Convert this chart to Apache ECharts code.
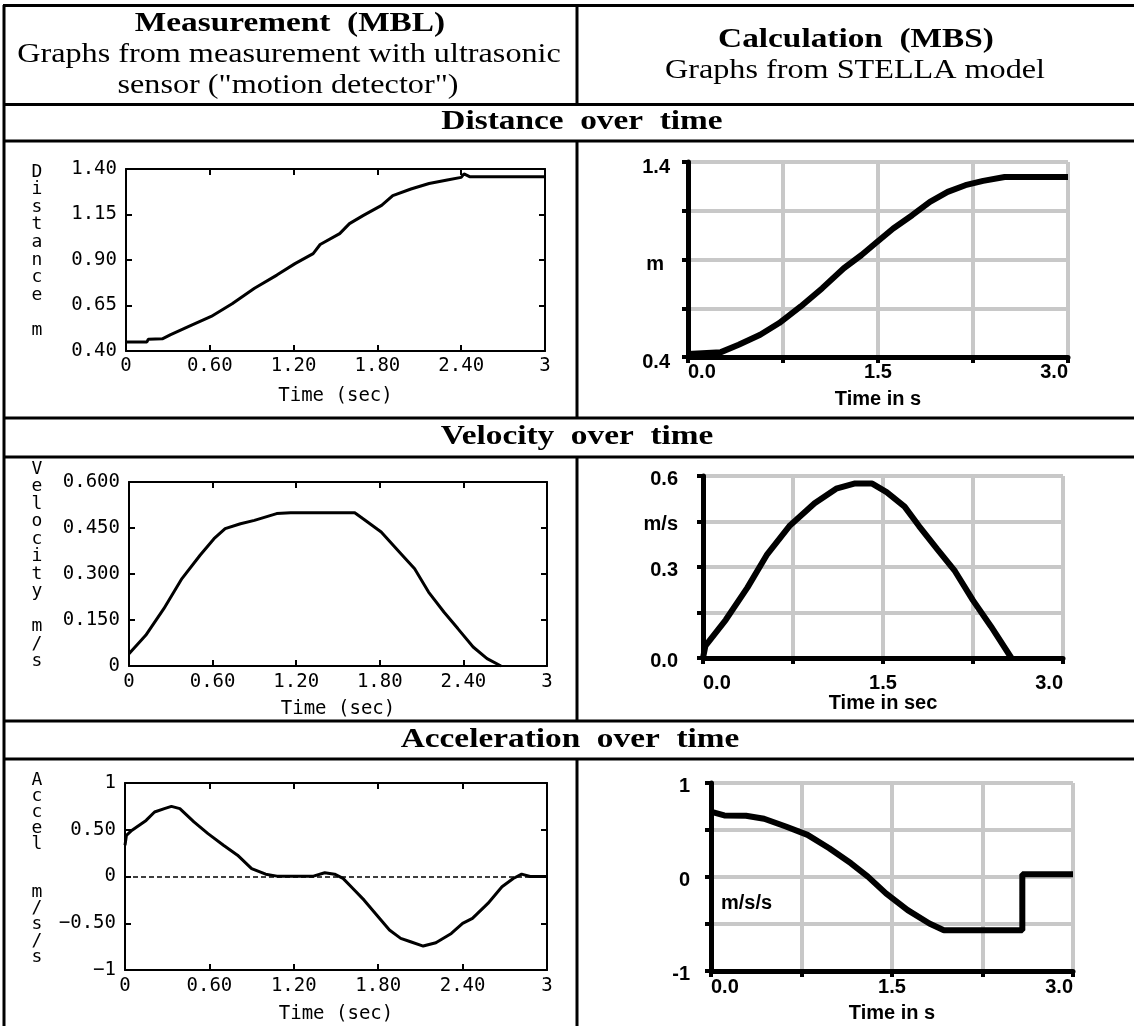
<!DOCTYPE html>
<html><head><meta charset="utf-8">
<script src="https://cdn.jsdelivr.net/npm/echarts@6/dist/echarts.min.js"></script>
<style>html,body{margin:0;padding:0;background:#fff}#c{width:1134px;height:1026px}</style>
</head><body><div id="c"></div>
<script>
// ---------- DATA ----------
// Measurement (MBL) - distance
const mblDistTime = [0, 0.15, 0.16, 0.26, 0.32, 0.45, 0.61, 0.76, 0.92, 1.08, 1.21, 1.34, 1.39, 1.53, 1.60, 1.70, 1.83, 1.91, 2.04, 2.17, 2.30, 2.40, 2.42, 2.46, 3.0];
const mblDistVal  = [0.45, 0.45, 0.465, 0.467, 0.49, 0.535, 0.59, 0.66, 0.745, 0.817, 0.88, 0.935, 0.985, 1.045, 1.10, 1.145, 1.20, 1.254, 1.29, 1.32, 1.34, 1.354, 1.373, 1.358, 1.358];
// Measurement (MBL) - velocity
const mblVelTime = [0, 0.12, 0.25, 0.38, 0.51, 0.61, 0.69, 0.80, 0.90, 1.06, 1.16, 1.62, 1.68, 1.81, 1.94, 2.05, 2.15, 2.26, 2.36, 2.47, 2.57, 2.67];
const mblVelVal  = [0.04, 0.10, 0.187, 0.285, 0.361, 0.415, 0.448, 0.464, 0.475, 0.497, 0.5, 0.5, 0.48, 0.437, 0.372, 0.317, 0.241, 0.176, 0.122, 0.062, 0.024, 0.0];
// Measurement (MBL) - acceleration
const mblAccTime = [0, 0.01, 0.05, 0.15, 0.21, 0.28, 0.33, 0.39, 0.49, 0.59, 0.70, 0.80, 0.90, 1.00, 1.08, 1.34, 1.42, 1.49, 1.55, 1.62, 1.70, 1.78, 1.88, 1.96, 2.03, 2.12, 2.21, 2.32, 2.40, 2.47, 2.58, 2.68, 2.76, 2.82, 2.88, 3.0];
const mblAccVal  = [0.335, 0.44, 0.495, 0.60, 0.69, 0.726, 0.75, 0.726, 0.584, 0.459, 0.335, 0.228, 0.085, 0.025, 0.004, 0.004, 0.04, 0.025, -0.02, -0.128, -0.253, -0.395, -0.573, -0.662, -0.698, -0.744, -0.708, -0.609, -0.502, -0.448, -0.288, -0.11, -0.021, 0.025, 0.0, 0.0];
// Calculation (MBS / STELLA) - distance
const mbsDistTime = [0, 0.26, 0.40, 0.57, 0.72, 0.89, 1.06, 1.23, 1.37, 1.48, 1.62, 1.77, 1.91, 2.05, 2.19, 2.33, 2.50, 3.0];
const mbsDistVal  = [0.415, 0.425, 0.463, 0.514, 0.574, 0.659, 0.753, 0.855, 0.923, 0.983, 1.059, 1.127, 1.196, 1.247, 1.281, 1.303, 1.323, 1.323];
// Calculation (MBS / STELLA) - velocity
const mbsVelTime = [0, 0.02, 0.19, 0.37, 0.53, 0.72, 0.93, 1.11, 1.26, 1.41, 1.53, 1.68, 1.80, 1.95, 2.10, 2.25, 2.40, 2.57];
const mbsVelVal  = [0, 0.04, 0.126, 0.232, 0.339, 0.435, 0.51, 0.558, 0.575, 0.575, 0.547, 0.499, 0.435, 0.36, 0.286, 0.19, 0.104, 0.0];
// Calculation (MBS / STELLA) - acceleration
const mbsAccTime = [0, 0.02, 0.11, 0.29, 0.44, 0.62, 0.80, 0.98, 1.16, 1.30, 1.45, 1.63, 1.81, 1.93, 2.58, 2.58, 3.0];
const mbsAccVal  = [0.69, 0.687, 0.655, 0.652, 0.62, 0.537, 0.448, 0.306, 0.146, 0.004, -0.174, -0.352, -0.495, -0.566, -0.566, 0.028, 0.028];

// Tick labels
const mblTimeLabels = ['0', '0.60', '1.20', '1.80', '2.40', '3'];
const mblDistLabels = ['0.40', '0.65', '0.90', '1.15', '1.40'];
const mblVelLabels  = ['0', '0.150', '0.300', '0.450', '0.600'];
const mblAccLabels  = ['\u22121', '\u22120.50', '0', '0.50', '1'];
const mbsTimeLabels = ['0.0', '', '1.5', '', '3.0'];
const mbsDistLabels = ['0.4', '', '{u|m}', '', '1.4'];
const mbsVelLabels  = ['0.0', '', '0.3', 'm/s', '0.6'];
const mbsAccLabels  = ['-1', '', '0', '', '1'];

// Texts: [text, bold, x, y]
const headerTexts = [
  ['Measurement  (MBL)', true, 290, 24],
  ['Graphs from measurement with ultrasonic', false, 289, 55],
  ['sensor ("motion detector")', false, 288, 86],
  ['Calculation  (MBS)', true, 856, 40],
  ['Graphs from STELLA model', false, 855, 71],
  ['Distance  over  time', true, 582, 122],
  ['Velocity  over  time', true, 577, 437],
  ['Acceleration  over  time', true, 570, 740]
];

// ---------- BUILD ----------
const MONO = 'DejaVu Sans Mono';
const SANS = 'Liberation Sans';
const fmt = (labels, min, step) => v => { const i = Math.round((v - min) / step); return labels[i] !== undefined ? labels[i] : ''; };
const pair = (a, b) => a.map((t, i) => [t, b[i]]);

const grids = [
  {left: 126, top: 169, width: 419, height: 182},
  {left: 688, top: 162, width: 380, height: 195},
  {left: 129, top: 482, width: 418, height: 184},
  {left: 703, top: 476, width: 360, height: 182},
  {left: 125, top: 783, width: 422, height: 187},
  {left: 711, top: 783, width: 362, height: 188}
].map(g => Object.assign(g, {containLabel: false, outerBoundsMode: 'none'}));

const mblLine = {show: true, onZero: false, lineStyle: {color: '#000', width: 2}};
const mblTick = {show: true, inside: true, length: 6, lineStyle: {color: '#000', width: 2}};
const monoText = {fontFamily: MONO, fontSize: 19, color: '#000'};

function mblX(gi, margin, nameGap) {
  return [
    {type: 'value', gridIndex: gi, position: 'bottom', min: 0, max: 3, interval: 0.6,
     axisLine: mblLine, axisTick: mblTick, splitLine: {show: false},
     axisLabel: Object.assign({show: true, margin: margin, showMinLabel: true, showMaxLabel: true,
       formatter: fmt(mblTimeLabels, 0, 0.6)}, monoText),
     name: 'Time (sec)', nameLocation: 'middle', nameGap: nameGap, nameMoveOverlap: false,
     nameTextStyle: Object.assign({}, monoText)},
    {type: 'value', gridIndex: gi, position: 'top', min: 0, max: 3, interval: 0.6,
     axisLine: mblLine, axisTick: mblTick, splitLine: {show: false}, axisLabel: {show: false}}
  ];
}
function mblY(gi, min, max, step, labels, name, lh) {
  return [
    {type: 'value', gridIndex: gi, position: 'left', min: min, max: max, interval: step,
     axisLine: mblLine, axisTick: mblTick, splitLine: {show: false},
     axisLabel: Object.assign({show: true, margin: 9, showMinLabel: true, showMaxLabel: true,
       formatter: fmt(labels, min, step)}, monoText),
     // letters stacked vertically; trailing blank line lifts the block a little
     name: name.split('').join('\n') + '\n ', nameLocation: 'middle', nameRotate: 0,
     nameGap: grids[gi].left - 37, nameMoveOverlap: false,
     nameTextStyle: Object.assign({align: 'center', verticalAlign: 'middle', lineHeight: lh}, monoText, {fontSize: 18})},
    {type: 'value', gridIndex: gi, position: 'right', min: min, max: max, interval: step,
     axisLine: mblLine, axisTick: mblTick, splitLine: {show: false}, axisLabel: {show: false}}
  ];
}
const sLine = {show: true, onZero: false, lineStyle: {color: '#000', width: 5}};
const sTick = {show: true, inside: false, length: 6, lineStyle: {color: '#000', width: 4}};
const sSplit = {show: true, lineStyle: {color: '#c8c8c8', width: 4}};
const sansText = {fontFamily: SANS, fontWeight: 'bold', fontSize: 20, color: '#000'};
function mbsX(gi, margin, name, nameGap) {
  return {type: 'value', gridIndex: gi, min: 0, max: 3, interval: 0.75,
    axisLine: sLine, axisTick: sTick, splitLine: sSplit,
    axisLabel: Object.assign({show: true, margin: margin, showMinLabel: true, showMaxLabel: true,
      alignMinLabel: 'left', alignMaxLabel: 'right', formatter: fmt(mbsTimeLabels, 0, 0.75)}, sansText),
    name: name, nameLocation: 'middle', nameGap: nameGap, nameMoveOverlap: false,
    nameTextStyle: Object.assign({}, sansText)};
}
function mbsY(gi, min, max, step, labels, margin, drop, extra) {
  return Object.assign({type: 'value', gridIndex: gi, min: min, max: max, interval: step,
    axisLine: sLine, axisTick: sTick, splitLine: sSplit,
    axisLabel: Object.assign({show: true, margin: margin, showMinLabel: true, showMaxLabel: true,
      verticalAlign: 'top', lineHeight: drop * 2,
      formatter: fmt(labels, min, step),
      rich: {u: Object.assign({padding: [0, 6, 0, 0], lineHeight: drop * 2}, sansText)}}, sansText)}, extra || {});
}

const xAxes = [].concat(
  mblX(0, 6, 36), [mbsX(1, 5, 'Time in s', 32)],
  mblX(2, 7, 34), [mbsX(3, 15, 'Time in sec', 35)],
  mblX(4, 7, 35), [mbsX(5, 6, 'Time in s', 32)]
);
const yAxes = [].concat(
  mblY(0, 0.4, 1.4, 0.25, mblDistLabels, 'Distance m', 17.6),
  [mbsY(1, 0.4, 1.4, 0.25, mbsDistLabels, 18, 5)],
  mblY(2, 0, 0.6, 0.15, mblVelLabels, 'Velocity m/s', 17.5),
  [mbsY(3, 0, 0.6, 0.15, mbsVelLabels, 25, 3)],
  mblY(4, -1, 1, 0.5, mblAccLabels, 'Accel  m/s/s', 16.1),
  [mbsY(5, -1, 1, 0.5, mbsAccLabels, 21, 3, {
    name: '\nm/s/s', nameLocation: 'middle', nameRotate: 0, nameGap: -10, nameMoveOverlap: false,
    nameTextStyle: Object.assign({align: 'left', verticalAlign: 'middle', lineHeight: 52}, sansText)})]
);

function lineSeries(xi, t, v, w) {
  return {type: 'line', xAxisIndex: xi, yAxisIndex: xi, data: pair(t, v), showSymbol: false, symbol: 'none',
    clip: false, lineStyle: {color: '#000', width: w}, z: 5, silent: true};
}
const series = [
  lineSeries(0, mblDistTime, mblDistVal, 3),
  lineSeries(2, mbsDistTime, mbsDistVal, 6),
  lineSeries(3, mblVelTime, mblVelVal, 3),
  lineSeries(5, mbsVelTime, mbsVelVal, 6),
  Object.assign(lineSeries(6, mblAccTime, mblAccVal, 3), {
    markLine: {silent: true, symbol: 'none', label: {show: false},
      lineStyle: {color: '#000', width: 1.5, type: [5, 3]}, data: [{yAxis: 0}]}}),
  lineSeries(8, mbsAccTime, mbsAccVal, 6)
];

// table lines
const hLines = [5.5, 104.5, 141, 418, 457, 721, 759];
const vSegs = [[4, 5, 1026], [577, 5, 104.5], [577, 141, 418], [577, 457, 721], [577, 759, 1026]];
const graphics = [];
hLines.forEach(y => graphics.push({type: 'line', shape: {x1: 3, y1: y, x2: 1134, y2: y}, style: {stroke: '#000', lineWidth: 3}, silent: true}));
vSegs.forEach(s => graphics.push({type: 'line', shape: {x1: s[0], y1: s[1], x2: s[0], y2: s[2]}, style: {stroke: '#000', lineWidth: 3}, silent: true}));
headerTexts.forEach(h => graphics.push({type: 'text', x: h[2], y: h[3], scaleX: h[1] ? 1.19 : 1.15, silent: true,
  style: {text: h[0], x: 0, y: 0, fill: '#000', font: (h[1] ? 'bold ' : '') + '28px "Liberation Serif"',
    textAlign: 'center', textVerticalAlign: 'middle', align: 'center', verticalAlign: 'middle'}}));

const chart = echarts.init(document.getElementById('c'), null, {renderer: 'canvas', width: 1134, height: 1026});
chart.setOption({
  animation: false, backgroundColor: '#fff',
  grid: grids, xAxis: xAxes, yAxis: yAxes, series: series,
  graphic: {elements: graphics}
});
</script></body></html>
